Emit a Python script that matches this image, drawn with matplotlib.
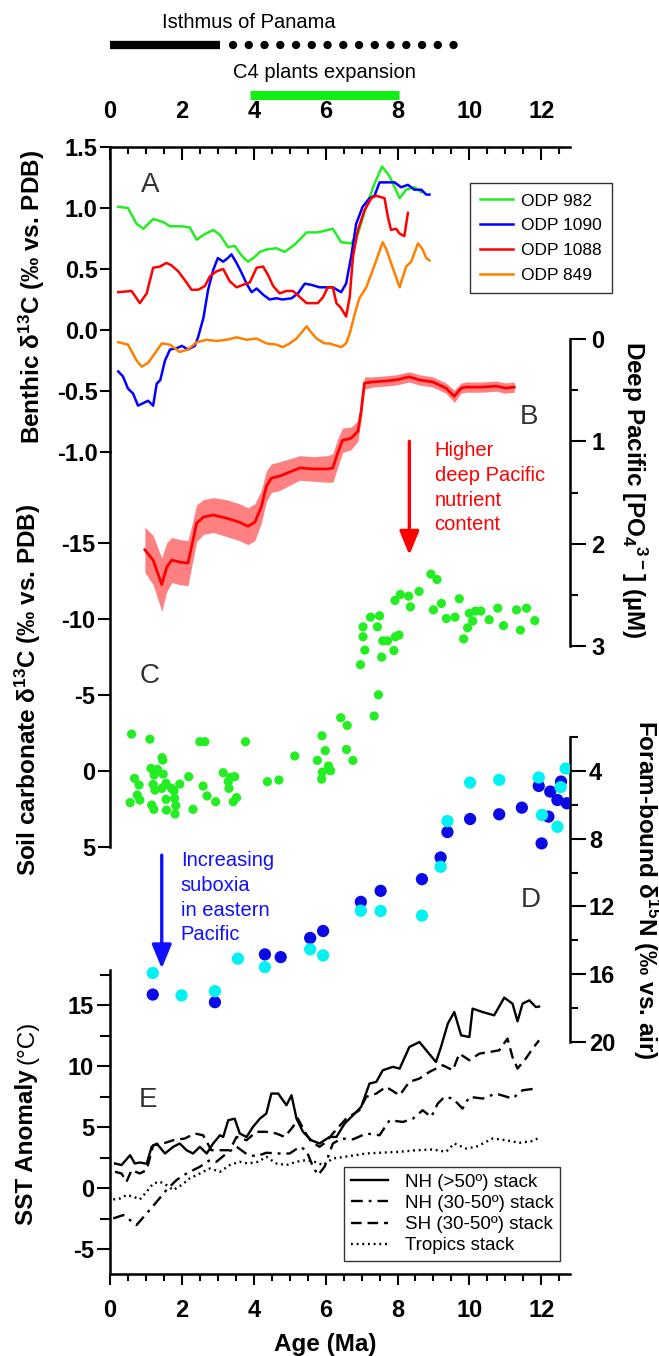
import matplotlib
matplotlib.use('Agg')
import matplotlib.pyplot as plt
import numpy as np

plt.rcParams['font.family'] = ['Liberation Sans', 'DejaVu Sans']
plt.rcParams['mathtext.default'] = 'regular'
plt.rcParams['axes.unicode_minus'] = False

# ---------------- data ----------------
age_ticks = [0, 2, 4, 6, 8, 10, 12]
a_ticks = [-1.0, -0.5, 0.0, 0.5, 1.0, 1.5]
b_ticks = [0, 1, 2, 3]
c_ticks = [-15, -10, -5, 0, 5]
d_ticks = [4, 8, 12, 16, 20]
e_ticks = [-5, 0, 5, 10, 15]

isthmus_closed = [0.0, 3.05]
isthmus_open = [3.42, 9.6]
c4_expansion = [3.9, 8.03]

odp982_age = [0.23,0.5,0.74,0.93,1.2,1.48,1.67,2.0,2.22,2.41,2.6,2.87,3.06,3.28,3.47,3.66,3.84,4.03,4.17,4.35,4.63,4.86,5.14,5.47,5.75,5.93,6.2,6.43,6.71,6.9,7.13,7.36,7.57,7.78,8.06,8.24,8.47,8.66]
odp982_d13c = [1.01,1.0,0.87,0.83,0.91,0.885,0.85,0.85,0.84,0.74,0.78,0.82,0.78,0.68,0.69,0.61,0.56,0.6,0.64,0.66,0.67,0.64,0.7,0.8,0.8,0.81,0.83,0.72,0.71,0.79,1.01,1.2,1.34,1.26,1.08,1.15,1.17,1.13]

odp1090_age = [0.23,0.36,0.5,0.64,0.78,0.92,1.06,1.2,1.3,1.4,1.53,1.67,1.85,2.0,2.17,2.36,2.45,2.6,2.73,2.87,3.0,3.15,3.28,3.38,3.52,3.66,3.8,3.94,4.08,4.26,4.44,4.63,4.8,5.05,5.23,5.42,5.6,5.83,6.06,6.2,6.43,6.57,6.71,6.85,7.03,7.22,7.36,7.5,7.68,7.92,8.1,8.29,8.47,8.66,8.8,8.89]
odp1090_d13c = [-0.34,-0.38,-0.48,-0.52,-0.62,-0.6,-0.58,-0.62,-0.44,-0.41,-0.25,-0.16,-0.15,-0.13,-0.16,-0.13,-0.06,0.1,0.33,0.49,0.59,0.56,0.59,0.62,0.55,0.47,0.38,0.31,0.34,0.29,0.25,0.26,0.25,0.26,0.3,0.38,0.37,0.35,0.35,0.35,0.31,0.38,0.6,0.87,1.01,1.08,1.1,1.21,1.21,1.21,1.17,1.19,1.15,1.15,1.11,1.11]

odp1088_age = [0.23,0.6,0.83,1.02,1.2,1.39,1.57,1.71,1.9,2.08,2.27,2.45,2.64,2.78,2.96,3.15,3.33,3.52,3.7,3.89,4.08,4.26,4.4,4.54,4.72,4.91,5.09,5.28,5.47,5.78,5.93,6.06,6.2,6.3,6.43,6.57,6.67,6.76,6.9,7.08,7.27,7.41,7.64,7.73,7.82,7.96,8.06,8.19,8.29]
odp1088_d13c = [0.31,0.32,0.22,0.3,0.51,0.52,0.55,0.53,0.48,0.41,0.33,0.33,0.36,0.44,0.48,0.5,0.4,0.35,0.37,0.39,0.51,0.52,0.45,0.36,0.3,0.32,0.32,0.27,0.22,0.22,0.27,0.35,0.35,0.22,0.18,0.11,0.27,0.6,0.82,0.98,1.08,1.1,1.08,0.93,0.82,0.83,0.79,0.77,0.96]

odp849_age = [0.23,0.5,0.74,0.88,1.06,1.25,1.44,1.67,1.94,2.17,2.41,2.69,2.96,3.24,3.52,3.8,4.08,4.35,4.63,4.81,5.0,5.19,5.33,5.47,5.6,5.75,5.97,6.1,6.43,6.57,6.67,6.8,6.94,7.13,7.31,7.48,7.59,7.69,7.82,8.06,8.24,8.38,8.57,8.7,8.8,8.89]
odp849_d13c = [-0.1,-0.12,-0.25,-0.3,-0.27,-0.19,-0.11,-0.12,-0.18,-0.16,-0.1,-0.08,-0.09,-0.08,-0.06,-0.08,-0.07,-0.11,-0.12,-0.14,-0.11,-0.07,-0.02,0.03,-0.02,-0.07,-0.11,-0.11,-0.14,-0.11,-0.03,0.12,0.26,0.35,0.49,0.63,0.72,0.66,0.55,0.35,0.52,0.56,0.71,0.66,0.59,0.57]

po4_age = [0.97,1.2,1.44,1.58,1.72,1.94,2.17,2.27,2.41,2.6,2.87,3.24,3.6,3.84,4.03,4.21,4.35,4.49,4.72,5.0,5.28,5.65,6.06,6.2,6.33,6.47,6.71,6.9,6.99,7.08,7.31,7.68,7.96,8.33,8.61,8.98,9.35,9.58,9.77,9.91,10.37,10.74,11.0,11.25]
po4_mean = [2.06,2.16,2.4,2.23,2.16,2.18,2.19,2.03,1.8,1.74,1.72,1.75,1.79,1.83,1.79,1.64,1.44,1.36,1.34,1.3,1.26,1.27,1.27,1.26,1.12,0.99,0.97,0.9,0.7,0.43,0.42,0.41,0.4,0.37,0.4,0.42,0.48,0.56,0.48,0.47,0.47,0.46,0.48,0.47]
po4_err = [0.22,0.24,0.26,0.24,0.22,0.22,0.22,0.2,0.18,0.17,0.17,0.18,0.18,0.18,0.18,0.16,0.15,0.14,0.14,0.13,0.12,0.12,0.13,0.14,0.14,0.12,0.11,0.1,0.08,0.06,0.05,0.05,0.05,0.05,0.05,0.05,0.05,0.06,0.05,0.05,0.05,0.05,0.05,0.05]

soil_age = [0.6,1.11,1.45,1.14,1.32,1.23,1.48,0.68,0.81,1.2,1.56,1.71,1.94,2.19,1.25,1.44,1.78,0.76,0.83,0.56,1.56,1.8,1.16,1.22,1.57,1.83,1.81,2.31,2.59,2.7,2.94,3.15,3.35,3.47,3.29,3.31,3.52,3.43,2.5,2.64,3.77,4.38,4.7,5.14,1.47,
            5.9,5.99,5.77,6.08,6.14,5.91,5.89,6.42,6.6,6.58,6.76,7.35,7.47,6.97,7.09,7.04,7.04,7.25,7.5,7.44,7.56,7.59,7.72,7.9,7.94,8.04,7.93,8.08,8.31,8.36,8.6,8.93,9.1,9.0,9.22,9.36,9.6,9.72,9.84,9.95,10.0,10.09,10.17,10.32,10.55,10.79,10.95,11.31,11.42,11.59,11.82]
soil_d13c = [-2.43,-2.1,-0.88,-0.17,-0.11,0.26,0.2,0.48,0.92,0.88,0.81,1.14,0.86,0.37,1.25,1.14,1.3,1.58,1.91,2.08,1.86,1.8,2.24,2.52,2.57,2.28,2.83,2.52,0.99,1.64,2.02,0.11,0.42,0.37,0.7,1.14,1.75,2.02,-1.93,-1.93,-1.93,0.7,0.59,-0.99,-0.72,
             -2.32,-1.34,-0.7,-0.33,-0.02,0.07,0.53,-3.51,-3.0,-1.42,-0.7,-3.62,-5.02,-7.0,-7.96,-8.84,-9.49,-10.13,-10.22,-9.49,-7.5,-8.57,-8.57,-7.93,-8.84,-8.95,-11.23,-11.62,-11.51,-10.81,-11.82,-12.96,-12.61,-10.61,-11.03,-10.04,-10.13,-11.34,-8.7,-9.43,-10.38,-9.87,-10.53,-10.53,-9.96,-10.72,-9.57,-10.61,-9.28,-10.72,-9.9]

n15_cyan_age = [1.19,1.99,2.92,3.56,4.31,5.57,5.93,6.98,7.53,8.68,9.2,9.39,10.02,10.83,11.93,12.68,12.54,12.02,12.45]
n15_cyan = [15.93,17.25,17.0,15.08,15.58,14.53,14.89,12.25,12.27,12.54,9.66,6.96,4.69,4.53,4.39,3.86,4.96,6.6,7.3]
n15_blue_age = [1.19,2.92,4.31,4.75,5.57,5.93,6.98,7.53,8.68,9.2,9.39,10.02,10.83,11.46,11.93,12.25,12.55,12.45,12.71,12.2,12.01]
n15_blue = [17.2,17.65,14.83,14.99,13.86,13.45,11.73,11.08,10.39,9.11,7.61,6.84,6.56,6.17,4.89,5.22,4.63,5.72,5.91,6.7,8.28]

nh50_age = [0.14,0.32,0.56,0.69,0.83,1.02,1.16,1.3,1.53,1.76,1.94,2.13,2.31,2.5,2.69,2.87,3.06,3.15,3.29,3.47,3.61,3.8,3.98,4.17,4.35,4.49,4.68,4.91,5.05,5.19,5.37,5.6,5.83,6.11,6.3,6.53,6.81,6.99,7.22,7.41,7.59,7.87,8.06,8.33,8.61,8.8,9.07,9.21,9.4,9.58,9.77,10.0,10.09,10.37,10.69,10.97,11.2,11.34,11.48,11.67,11.85,11.94]
nh50_sst = [2.02,1.89,2.7,2.02,2.1,2.0,3.39,3.66,2.84,3.39,3.66,3.11,2.84,3.39,2.84,3.66,4.34,4.2,5.57,5.7,4.48,4.2,5.03,5.7,6.12,7.76,7.76,6.8,7.62,5.7,4.62,3.93,3.66,4.2,4.2,5.3,6.12,6.67,8.58,8.72,9.67,9.95,9.81,11.58,11.99,11.31,10.35,11.58,13.5,14.45,12.54,12.4,14.73,14.45,14.18,15.63,15.14,13.69,15.14,15.41,14.86,14.9]

nh3050_age = [0.09,0.37,0.74,1.02,1.3,1.57,1.85,2.13,2.5,2.78,2.96,3.24,3.52,3.8,4.07,4.35,4.72,5.0,5.28,5.46,5.65,5.79,5.97,6.2,6.44,6.76,7.13,7.5,7.78,8.15,8.43,8.7,8.94,9.12,9.31,9.54,9.81,10.0,10.37,10.74,11.2,11.48,11.85]
nh3050_sst = [-2.49,-2.21,-3.03,-2.08,-1.12,-0.16,0.66,1.2,1.75,2.3,2.16,2.84,3.4,2.8,2.6,2.9,2.84,2.84,3.39,3.11,1.75,1.07,1.75,3.66,4.07,4.0,4.48,4.34,5.57,5.43,5.7,6.39,5.84,6.94,7.49,7.35,6.53,7.49,7.35,7.76,7.35,8.03,8.17]

sh3050_age = [0.14,0.32,0.46,0.6,0.83,1.02,1.2,1.48,1.76,2.08,2.36,2.59,2.82,3.06,3.33,3.52,3.8,4.07,4.35,4.63,4.86,5.09,5.23,5.42,5.6,5.83,6.02,6.2,6.57,6.94,7.13,7.41,7.68,8.06,8.33,8.61,8.89,9.26,9.54,9.72,10.0,10.28,10.56,10.83,11.06,11.2,11.34,11.57,11.76,11.94]
sh3050_sst = [1.34,1.2,0.52,1.48,1.2,1.48,3.52,3.66,3.93,4.07,4.48,4.34,3.11,3.11,3.11,4.2,3.93,4.62,4.62,4.48,4.2,5.03,5.7,4.62,3.8,3.39,3.8,4.48,5.7,6.39,7.49,7.76,8.31,7.62,8.72,8.99,9.54,10.08,9.67,11.04,10.49,11.04,11.17,11.31,12.27,10.76,9.81,10.63,11.45,12.13]

trop_age = [0.09,0.28,0.46,0.65,0.83,1.02,1.2,1.39,1.57,1.76,1.99,2.22,2.5,2.78,3.06,3.33,3.61,3.84,4.12,4.35,4.63,4.91,5.19,5.46,5.69,5.93,6.2,6.6,7.13,7.5,8.06,8.5,8.98,9.35,9.58,9.91,10.19,10.65,11.02,11.39,11.76,11.9]
trop_sst = [-0.93,-0.85,-0.57,-0.7,-0.93,-0.3,0.38,0.52,0.25,-0.16,0.25,0.8,1.2,1.61,1.34,1.89,2.16,2.02,2.16,2.57,2.02,1.89,2.16,2.3,2.16,1.89,2.43,2.6,2.84,2.9,2.98,3.1,3.17,2.98,3.66,3.25,3.39,4.07,3.93,3.72,3.86,4.07]

# ---------------- layout ----------------
W, H = 659, 1356
fig = plt.figure(figsize=(W / 100, H / 100), dpi=100)
XL, XR = 110, 570
XLIM = (0, 12.8)
SPW = 1.8
TLW = 1.5
TFS = 17
LFS = 17.5


def px_axes(x0, y0, x1, y1):
    ax = fig.add_axes([x0 / W, 1 - y1 / H, (x1 - x0) / W, (y1 - y0) / H])
    ax.patch.set_visible(False)
    for s in ax.spines.values():
        s.set_visible(False)
        s.set_linewidth(SPW)
    ax.set_xlim(*XLIM)
    ax.tick_params(which='both', bottom=False, top=False, left=False, right=False,
                   labelbottom=False, labeltop=False, labelleft=False, labelright=False)
    return ax


# ---- top annotations ----
axT = px_axes(XL, 0, XR, 147)
axT.set_ylim(147, 0)
axT.plot(isthmus_closed, [45, 45], color='black', lw=6, solid_capstyle='butt')
axT.plot(isthmus_open, [45, 45], color='black', lw=6, linestyle=(0, (0.01, 1.88)),
         dash_capstyle='round')
axT.text(3.86, 22, 'Isthmus of Panama', ha='center', va='center', fontsize=14.5)
axT.plot(c4_expansion, [95, 95], color='#11ee11', lw=6.5, solid_capstyle='butt')
axT.text(np.mean(c4_expansion), 72, 'C4 plants expansion', ha='center', va='center', fontsize=14.5)

# ---- Panel A ----
axA = px_axes(XL, 147, XR, 452)
axA.set_ylim(-1.0, 1.5)
axA.spines['left'].set_visible(True)
axA.spines['top'].set_visible(True)
axA.plot(odp982_age, odp982_d13c, color='#22ee22', lw=1.8, label='ODP 982')
axA.plot(odp1090_age, odp1090_d13c, color='#0000ff', lw=1.8, label='ODP 1090')
axA.plot(odp1088_age, odp1088_d13c, color='#ff0000', lw=1.8, label='ODP 1088')
axA.plot(odp849_age, odp849_d13c, color='#ff8000', lw=1.8, label='ODP 849')
axA.set_xticks(age_ticks, [str(t) for t in age_ticks], fontweight='bold', fontsize=TFS)
axA.set_xticks(np.arange(0, 12.8, 0.5), minor=True)
axA.tick_params(axis='x', which='both', top=True, labeltop=True, direction='in', width=TLW)
axA.tick_params(axis='x', which='major', length=9, pad=17)
axA.tick_params(axis='x', which='minor', length=5)
axA.set_yticks(a_ticks, ['%.1f' % t for t in a_ticks], fontweight='bold', fontsize=TFS)
axA.tick_params(axis='y', which='major', left=True, labelleft=True, direction='out', length=7, width=TLW, pad=2)
axA.text(1.11, 1.19, 'A', color='#333333', fontsize=20, ha='center', va='center')
legA = axA.legend(loc='upper left', bbox_to_anchor=(470 / W, 1 - 183 / H), bbox_transform=fig.transFigure,
                  fontsize=12.5, frameon=True, fancybox=False, edgecolor='black', borderaxespad=0,
                  handlelength=1.9, handletextpad=0.45, labelspacing=0.55, borderpad=0.6)
legA.get_frame().set_linewidth(1.0)

# ---- Panel B ----
axB = px_axes(XL, 339, XR, 646)
axB.set_ylim(3, 0)
axB.spines['right'].set_visible(True)
lo = [m - e for m, e in zip(po4_mean, po4_err)]
hi = [m + e for m, e in zip(po4_mean, po4_err)]
axB.fill_between(po4_age, lo, hi, color='#ff8080', lw=0)
axB.plot(po4_age, po4_mean, color='#ff0000', lw=2)
axB.set_yticks(b_ticks, [str(t) for t in b_ticks], fontweight='bold', fontsize=TFS)
axB.set_yticks([0.5, 1.5, 2.5], minor=True)
axB.tick_params(axis='y', which='both', right=True, labelright=True, direction='out', width=TLW)
axB.tick_params(axis='y', which='major', length=11.5, pad=4)
axB.tick_params(axis='y', which='minor', length=6)
axB.text(11.67, 0.76, 'B', color='#333333', fontsize=20, ha='center', va='center')
axB.annotate('', xy=(8.33, 2.11), xytext=(8.33, 1.0),
             arrowprops=dict(arrowstyle='-|>,head_length=1.45,head_width=0.6', color='#ff0000', lw=2.4,
                             shrinkA=0, shrinkB=0))
axB.text(9.03, 1.0, 'Higher\ndeep Pacific\nnutrient\ncontent', color='#ff0000', fontsize=14.5,
         ha='left', va='top', linespacing=1.38)

# ---- Panel C ----
axC = px_axes(XL, 452, XR, 847)
axC.set_ylim(5, -21)
axC.spines['left'].set_visible(True)
axC.scatter(soil_age, soil_d13c, s=44, color='#22ee22', edgecolors='none', zorder=3)
axC.set_yticks(c_ticks, [str(t) for t in c_ticks], fontweight='bold', fontsize=TFS)
axC.tick_params(axis='y', which='major', left=True, labelleft=True, direction='out', length=8.5, width=TLW, pad=2)
axC.text(1.11, -6.25, 'C', color='#333333', fontsize=20, ha='center', va='center')

# ---- Panel D ----
axD = px_axes(XL, 737, XR, 1042)
axD.set_ylim(20, 2)
axD.spines['right'].set_visible(True)
axD.scatter(n15_blue_age, n15_blue, s=78, color='#0a0ae6', edgecolors='none', zorder=3)
axD.scatter(n15_cyan_age, n15_cyan, s=78, color='#00f2f2', edgecolors='none', zorder=3)
axD.set_yticks(d_ticks, [str(t) for t in d_ticks], fontweight='bold', fontsize=TFS)
axD.set_yticks([2, 6, 10, 14, 18], minor=True)
axD.tick_params(axis='y', which='both', right=True, labelright=True, direction='out', width=TLW)
axD.tick_params(axis='y', which='major', length=11.5, pad=2)
axD.tick_params(axis='y', which='minor', length=6)
axD.text(11.72, 11.6, 'D', color='#333333', fontsize=20, ha='center', va='center')
axD.annotate('', xy=(1.44, 15.66), xytext=(1.44, 8.97),
             arrowprops=dict(arrowstyle='-|>,head_length=1.45,head_width=0.6', color='#1010ff', lw=2.4,
                             shrinkA=0, shrinkB=0))
axD.text(1.97, 8.75, 'Increasing\nsuboxia\nin eastern\nPacific', color='#1010ff', fontsize=14.5,
         ha='left', va='top', linespacing=1.38)

# ---- Panel E ----
axE = px_axes(XL, 970, XR, 1274)
axE.set_ylim(-7.05, 17.9)
axE.spines['left'].set_visible(True)
axE.spines['bottom'].set_visible(True)
axE.plot(nh50_age, nh50_sst, color='black', lw=1.7, ls='-', label='NH (>50º) stack')
axE.plot(nh3050_age, nh3050_sst, color='black', lw=1.7, ls=(0, (5, 2.5, 1.2, 2.5)), label='NH (30-50º) stack')
axE.plot(sh3050_age, sh3050_sst, color='black', lw=1.7, ls=(0, (4.5, 2.5)), label='SH (30-50º) stack')
axE.plot(trop_age, trop_sst, color='black', lw=1.7, ls=(0, (0.8, 1.6)), label='Tropics stack')
axE.set_xticks(age_ticks, [str(t) for t in age_ticks], fontweight='bold', fontsize=TFS)
axE.set_xticks(np.arange(0, 12.8, 0.5), minor=True)
axE.tick_params(axis='x', which='both', bottom=True, labelbottom=True, direction='out', width=TLW)
axE.tick_params(axis='x', which='major', length=8, pad=10)
axE.tick_params(axis='x', which='minor', length=5)
axE.set_yticks(e_ticks, [str(t) for t in e_ticks], fontweight='bold', fontsize=TFS)
axE.set_yticks([-2.5, 2.5, 7.5, 12.5, 17.5], minor=True)
axE.tick_params(axis='y', which='both', left=True, labelleft=True, direction='out', width=TLW)
axE.tick_params(axis='y', which='major', length=9.5, pad=2)
axE.tick_params(axis='y', which='minor', length=7)
axE.text(1.06, 7.2, 'E', color='#333333', fontsize=20, ha='center', va='center')
legE = axE.legend(loc='upper left', bbox_to_anchor=(344 / W, 1 - 1167 / H), bbox_transform=fig.transFigure,
                  fontsize=13.5, frameon=True, fancybox=False, edgecolor='black', borderaxespad=0,
                  handlelength=2.0, handletextpad=0.9, labelspacing=0.22, borderpad=0.35)
legE.get_frame().set_linewidth(1.0)

# ---- axis titles ----
fig.text(32 / W, 1 - 297 / H, 'Benthic δ$^{13}$C (‰ vs. PDB)', rotation=90, ha='center', va='center',
         fontsize=LFS, fontweight='bold')
fig.text(28 / W, 1 - 690 / H, 'Soil carbonate δ$^{13}$C (‰ vs. PDB)', rotation=90, ha='center', va='center',
         fontsize=LFS, fontweight='bold')
t_sst = fig.text(27 / W, 1 - 1225 / H, 'SST Anomaly', rotation=90, ha='center', va='bottom',
                 fontsize=LFS, fontweight='bold')
fig.canvas.draw()
bb = t_sst.get_window_extent()
fig.text(27 / W, (bb.y1 + 5) / H, '(°C)', rotation=90, ha='center', va='bottom', fontsize=LFS)
fig.text(634 / W, 1 - 490 / H, 'Deep Pacific [PO$_4$$^{3-}$] (µM)', rotation=270, ha='center', va='center',
         fontsize=LFS, fontweight='bold')
fig.text(646 / W, 1 - 890 / H, 'Foram-bound δ$^{15}$N (‰ vs. air)', rotation=270, ha='center', va='center',
         fontsize=LFS, fontweight='bold')
fig.text((XL + 6 * (XR - XL) / 12.8) / W, 1 - 1345 / H, 'Age (Ma)', ha='center', va='center',
         fontsize=LFS, fontweight='bold')

fig.savefig('out.png', dpi=100)
